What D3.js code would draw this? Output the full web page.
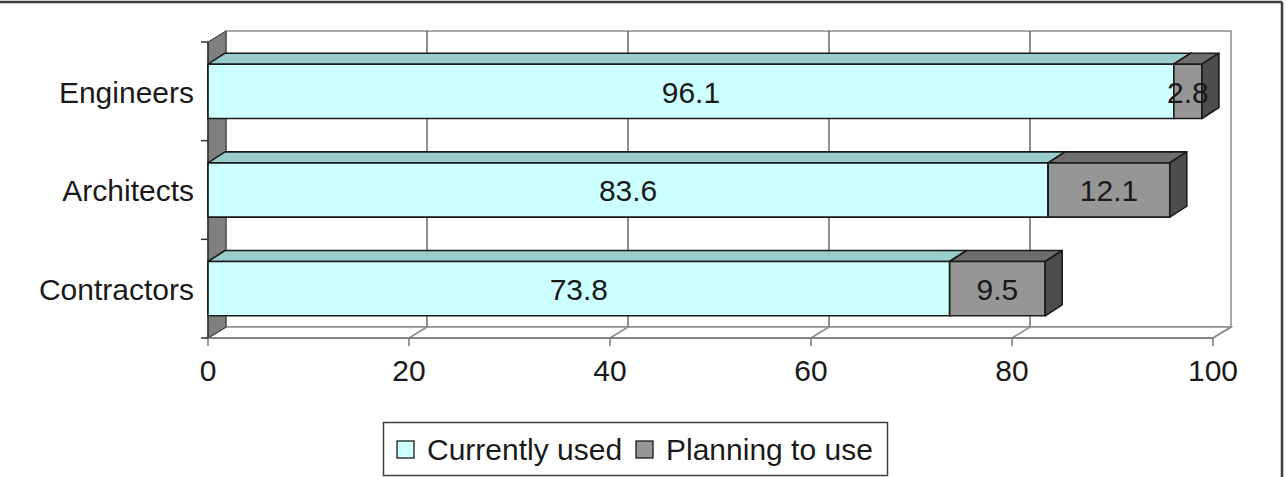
<!DOCTYPE html>
<html><head><meta charset="utf-8">
<script src="https://cdn.jsdelivr.net/npm/d3@7"></script>
<style>
html,body{margin:0;padding:0;background:#fff;}
svg{display:block;font-family:"Liberation Sans",Arial,sans-serif;}
</style></head>
<body>
<svg id="chart" width="1286" height="477"></svg>
<script>
const categories = ["Engineers", "Architects", "Contractors"];
const currentlyUsed = [96.1, 83.6, 73.8];
const planningToUse = [2.8, 12.1, 9.5];
const seriesNames = ["Currently used", "Planning to use"];
const xTicks = [0, 20, 40, 60, 80, 100];

const svg = d3.select("#chart");
const W = 1286, H = 477;

// geometry
const x = d3.scaleLinear().domain([0, 100]).range([208, 1213]);
const y = d3.scaleBand().domain(categories).range([42, 338]).paddingInner(0.45).paddingOuter(0.225);
const wallDx = 18, wallDy = -11;
const barDx = 17, barDy = -11;
const floorY = 338, topY = 42;
const colors = {
  curFront: "#CCFFFF", curTop: "#99CCCC", curSide: "#8FBFBF",
  planFront: "#969696", planTop: "#6E6E6E", planSide: "#4D4D4D"
};
const textColor = "#1a1a1a";
const fontSize = 29;
const stretch = 1.035;

// text helper with slight horizontal stretch to match reference
function txt(g, tx, ty, s, anchor) {
  return g.append("text")
    .attr("transform", `translate(${tx},${ty}) scale(${stretch},1)`)
    .attr("text-anchor", anchor || "start").attr("dominant-baseline", "central")
    .attr("font-size", fontSize).attr("fill", textColor).text(s);
}

// outer border (top and right edges visible)
svg.append("line").attr("x1", 0).attr("x2", 1282).attr("y1", 2).attr("y2", 2)
  .attr("stroke", "#404040").attr("stroke-width", 2.5);
svg.append("line").attr("x1", 1282).attr("x2", 1282).attr("y1", 2).attr("y2", H)
  .attr("stroke", "#404040").attr("stroke-width", 2.5);

// back wall
svg.append("rect")
  .attr("x", x(0) + wallDx).attr("y", topY + wallDy)
  .attr("width", x(100) - x(0)).attr("height", floorY - topY)
  .attr("fill", "#fff").attr("stroke", "#8c8c8c").attr("stroke-width", 1.5);

// gridlines on back wall
svg.append("g").selectAll("line").data(xTicks.slice(1, -1)).join("line")
  .attr("x1", d => x(d) + wallDx).attr("x2", d => x(d) + wallDx)
  .attr("y1", topY + wallDy).attr("y2", floorY + wallDy)
  .attr("stroke", "#555").attr("stroke-width", 1.3);

// floor
svg.append("polygon")
  .attr("points", [[x(0), floorY], [x(0) + wallDx, floorY + wallDy], [x(100) + wallDx, floorY + wallDy], [x(100), floorY]].map(p => p.join(",")).join(" "))
  .attr("fill", "#fff").attr("stroke", "#8c8c8c").attr("stroke-width", 1.5);
svg.append("g").selectAll("line").data(xTicks.slice(1)).join("line")
  .attr("x1", d => x(d)).attr("x2", d => x(d) + wallDx)
  .attr("y1", floorY).attr("y2", floorY + wallDy)
  .attr("stroke", "#8c8c8c").attr("stroke-width", 1.5);

// left side wall
svg.append("polygon")
  .attr("points", [[x(0), topY], [x(0) + wallDx, topY + wallDy], [x(0) + wallDx, floorY + wallDy], [x(0), floorY]].map(p => p.join(",")).join(" "))
  .attr("fill", "#808080").attr("stroke", "#333").attr("stroke-width", 1);

// x axis ticks + labels
const xa = svg.append("g");
xa.append("line").attr("x1", x(0)).attr("x2", x(100)).attr("y1", floorY).attr("y2", floorY)
  .attr("stroke", "#777").attr("stroke-width", 1.5);
xa.selectAll("line.tick").data(xTicks).join("line").attr("class", "tick")
  .attr("x1", d => x(d)).attr("x2", d => x(d)).attr("y1", floorY).attr("y2", floorY + 8)
  .attr("stroke", "#777").attr("stroke-width", 1.5);
xTicks.forEach(d => txt(xa, x(d), 371, d, "middle"));

// y axis line and ticks
const boundaries = [topY].concat(categories.map(c => y(c) + y.bandwidth() + y.step() * y.paddingInner() / 2));
boundaries[boundaries.length - 1] = floorY;
svg.append("line").attr("x1", x(0)).attr("x2", x(0)).attr("y1", topY).attr("y2", floorY)
  .attr("stroke", "#333").attr("stroke-width", 1.5);
svg.append("g").selectAll("line").data(boundaries).join("line")
  .attr("x1", x(0) - 7).attr("x2", x(0)).attr("y1", d => d).attr("y2", d => d)
  .attr("stroke", "#333").attr("stroke-width", 1.5);

// category labels
const cl = svg.append("g");
categories.forEach(c => txt(cl, 194, y(c) + y.bandwidth() / 2 + 1, c, "end"));

// 3D bar helper
function box(g, x0, x1, yTop, h, front, top, side) {
  const st = {stroke: "#1a1a1a", "stroke-width": 1.6, "stroke-linejoin": "round"};
  const pts = a => a.map(p => p.join(",")).join(" ");
  const tp = g.append("polygon").attr("points", pts([[x0, yTop], [x0 + barDx, yTop + barDy], [x1 + barDx, yTop + barDy], [x1, yTop]])).attr("fill", top);
  const fr = g.append("rect").attr("x", x0).attr("y", yTop).attr("width", x1 - x0).attr("height", h).attr("fill", front);
  const sd = g.append("polygon").attr("points", pts([[x1, yTop], [x1 + barDx, yTop + barDy], [x1 + barDx, yTop + h + barDy], [x1, yTop + h]])).attr("fill", side);
  [tp, fr, sd].forEach(s => Object.entries(st).forEach(([k, v]) => s.attr(k, v)));
}

const bars = svg.append("g");
categories.forEach((c, i) => {
  const yt = y(c), h = y.bandwidth();
  const a = currentlyUsed[i], b = planningToUse[i];
  const g = bars.append("g");
  box(g, x(0), x(a), yt, h, colors.curFront, colors.curTop, colors.curSide);
  box(g, x(a), x(a + b), yt, h, colors.planFront, colors.planTop, colors.planSide);
  txt(g, (x(0) + x(a)) / 2, yt + h / 2 + 1, a.toFixed(1), "middle");
  txt(g, (x(a) + x(a + b)) / 2, yt + h / 2 + 1, b.toFixed(1), "middle");
});

// legend
const lg = svg.append("g");
lg.append("rect").attr("x", 383.5).attr("y", 422.5).attr("width", 504).attr("height", 53)
  .attr("fill", "#fff").attr("stroke", "#404040").attr("stroke-width", 1.5);
const legendItems = [
  {name: seriesNames[0], color: colors.curFront, sx: 397, tx: 427},
  {name: seriesNames[1], color: colors.planFront, sx: 636, tx: 666}
];
legendItems.forEach(it => {
  lg.append("rect").attr("x", it.sx).attr("y", 441).attr("width", 17).attr("height", 17)
    .attr("fill", it.color).attr("stroke", "#1a1a1a").attr("stroke-width", 1.3);
  txt(lg, it.tx, 450, it.name, "start");
});
</script>
</body></html>
